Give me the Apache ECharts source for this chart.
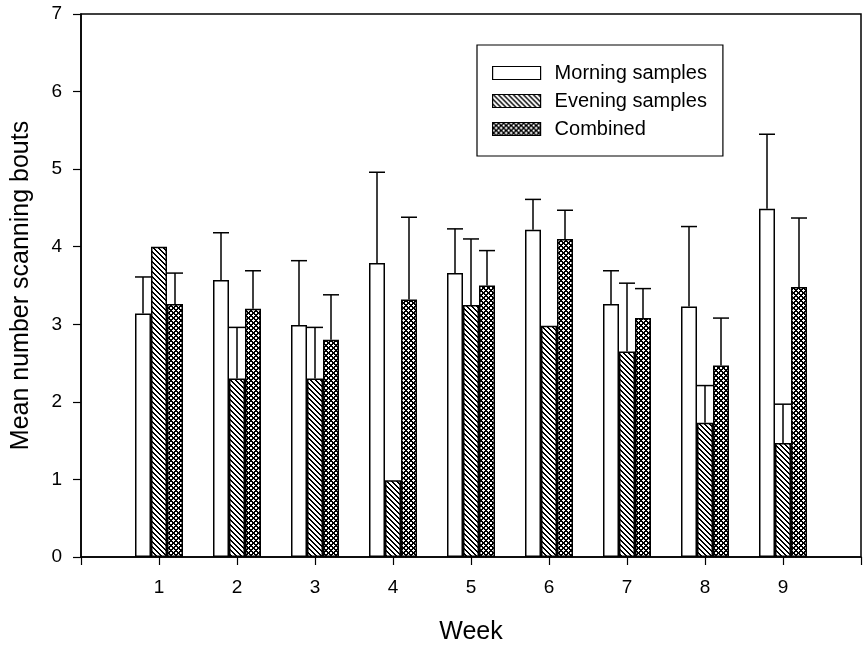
<!DOCTYPE html>
<html>
<head>
<meta charset="utf-8">
<script src="https://cdn.jsdelivr.net/npm/echarts@6/dist/echarts.min.js"></script>
<style>
html,body{margin:0;padding:0;background:#fff;}
#chart{width:866px;height:650px;}
</style>
</head>
<body>
<div id="chart"></div>
<script>
// ---- data ----
const weeks = [1, 2, 3, 4, 5, 6, 7, 8, 9];
const morningMean = [3.14, 3.57, 2.99, 3.79, 3.66, 4.22, 3.26, 3.23, 4.49];
const morningSE   = [0.47, 0.61, 0.83, 1.17, 0.57, 0.39, 0.43, 1.03, 0.96];
const eveningMean = [4.00, 2.30, 2.30, 0.99, 3.25, 2.98, 2.65, 1.73, 1.47];
const eveningSE   = [0.00, 0.66, 0.66, 0.00, 0.85, 0.00, 0.88, 0.48, 0.50];
const combinedMean = [3.26, 3.20, 2.80, 3.32, 3.50, 4.10, 3.08, 2.47, 3.48];
const combinedSE   = [0.40, 0.49, 0.58, 1.06, 0.45, 0.37, 0.38, 0.61, 0.89];
const seriesNames = ['Morning samples', 'Evening samples', 'Combined'];
const yTicks = [0, 1, 2, 3, 4, 5, 6, 7];

// ---- patterns (pixel-crisp) ----
function pixelPattern(s, isBlack) {
  const c = document.createElement('canvas');
  c.width = s; c.height = s;
  const g = c.getContext('2d');
  const img = g.createImageData(s, s);
  for (let y = 0; y < s; y++) {
    for (let x = 0; x < s; x++) {
      const k = (y * s + x) * 4;
      const v = isBlack(x, y, s) ? 0 : 255;
      img.data[k] = v; img.data[k + 1] = v; img.data[k + 2] = v; img.data[k + 3] = 255;
    }
  }
  g.putImageData(img, 0, 0);
  return c;
}
const mod = (a, n) => ((a % n) + n) % n;
const hatch = pixelPattern(5, (x, y, s) => mod(x - y, s) < 2);
const cross = pixelPattern(5, (x, y, s) => mod(x - y, s) < 2 || mod(x + y, s) < 2);

const fills = [
  '#ffffff',
  { image: hatch, repeat: 'repeat' },
  { image: cross, repeat: 'repeat' }
];
const means = [morningMean, eveningMean, combinedMean];
const errs = [morningSE, eveningSE, combinedSE];
const BW = 16;
const offsets = [-BW, 0, BW];
const FONT = 'Liberation Sans, Arial, sans-serif';

const series = [];
for (let i = 0; i < 3; i++) {
  series.push({
    name: seriesNames[i],
    type: 'bar',
    barWidth: BW,
    barGap: '0%',
    data: weeks.map((w, j) => [w, means[i][j]]),
    itemStyle: { color: fills[i], borderColor: '#000', borderWidth: 1.5 },
    emphasis: { disabled: true },
    z: 2
  });
}
for (let i = 0; i < 3; i++) {
  const off = offsets[i];
  series.push({
    type: 'custom',
    name: seriesNames[i] + ' error',
    data: weeks.map((w, j) => [w, means[i][j], errs[i][j]]),
    z: 5,
    silent: true,
    renderItem: function (params, api) {
      const x = api.value(0), y = api.value(1), e = api.value(2);
      if (!(e > 0)) return null;
      const p0 = api.coord([x, y]);
      const p1 = api.coord([x, y + e]);
      const cx = p0[0] + off;
      const half = BW / 2;
      const st = { stroke: '#000', lineWidth: 1.5, fill: null };
      return {
        type: 'group',
        children: [
          { type: 'line', shape: { x1: cx, y1: p0[1], x2: cx, y2: p1[1] }, style: st },
          { type: 'line', shape: { x1: cx - half, y1: p1[1], x2: cx + half, y2: p1[1] }, style: st }
        ]
      };
    }
  });
}

const chart = echarts.init(document.getElementById('chart'), null, { renderer: 'canvas' });
chart.setOption({
  animation: false,
  backgroundColor: '#fff',
  textStyle: { fontFamily: FONT, color: '#000' },
  grid: {
    left: 81, top: 14, right: 5, bottom: 91,
    show: true, borderColor: '#000', borderWidth: 1.5, backgroundColor: 'transparent'
  },
  legend: {
    data: seriesNames.map(n => ({ name: n, icon: 'rect' })),
    orient: 'vertical',
    left: 477, top: 45,
    itemWidth: 48, itemHeight: 13, itemGap: 8,
    padding: [18, 16, 17, 15],
    borderColor: '#000', borderWidth: 1.2,
    backgroundColor: '#fff',
    selectedMode: false,
    textStyle: { fontFamily: FONT, fontSize: 20, color: '#000', padding: [0, 0, 0, 9] },
    itemStyle: { borderColor: '#000', borderWidth: 1.2 }
  },
  xAxis: {
    type: 'value',
    min: 0, max: 10, interval: 1,
    name: 'Week',
    nameLocation: 'middle',
    nameGap: 63,
    nameTextStyle: { fontFamily: FONT, fontSize: 25, color: '#000' },
    axisLine: { show: true, lineStyle: { color: '#000', width: 1.5 } },
    axisTick: { show: true, length: 8, lineStyle: { color: '#000', width: 1.2 } },
    splitLine: { show: false },
    axisLabel: {
      margin: 21, fontSize: 19, color: '#000', fontFamily: FONT,
      formatter: function (v) { return weeks.indexOf(v) >= 0 ? String(v) : ''; }
    }
  },
  yAxis: {
    type: 'value',
    min: yTicks[0], max: yTicks[yTicks.length - 1], interval: 1,
    name: 'Mean number scanning bouts',
    nameLocation: 'middle',
    nameGap: 47,
    nameTextStyle: { fontFamily: FONT, fontSize: 25, color: '#000' },
    axisLine: { show: true, lineStyle: { color: '#000', width: 1.5 } },
    axisTick: { show: true, length: 8, lineStyle: { color: '#000', width: 1.2 } },
    splitLine: { show: false },
    axisLabel: { margin: 19, fontSize: 19, color: '#000', fontFamily: FONT }
  },
  series: series
});
</script>
</body>
</html>
